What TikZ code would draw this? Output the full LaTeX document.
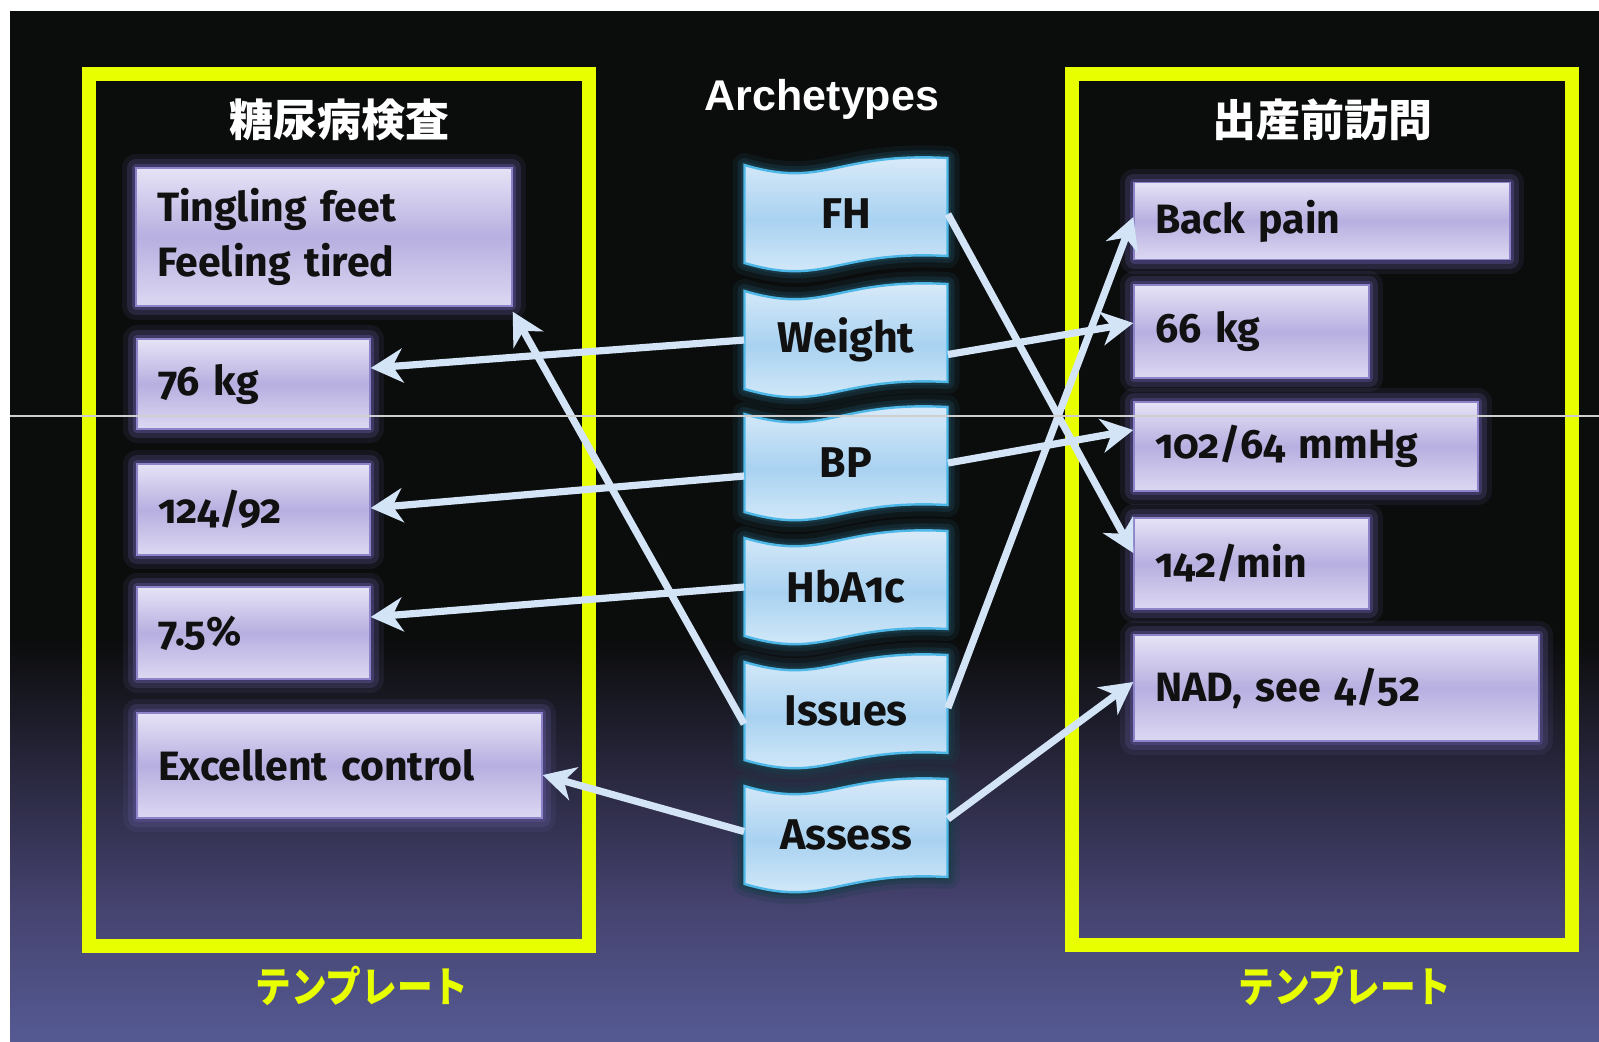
\documentclass[tikz,border=0pt]{standalone}
\usepackage{fontspec}
\setmainfont{Fira Sans}[Numbers=OldStyle]
\newfontfamily\cjk{Noto Sans CJK JP}
\newfontfamily\titlefont{Liberation Sans}
\usetikzlibrary{arrows.meta}
\definecolor{ylw}{HTML}{E8FF00}
\definecolor{bgk}{HTML}{0B0C0C}
\definecolor{bgmid}{HTML}{44416D}
\definecolor{bgbot}{HTML}{555A93}
\definecolor{boxtop}{HTML}{E6E3F6}
\definecolor{boxmid}{HTML}{B7AFE0}
\definecolor{boxbot}{HTML}{DCD8F2}
\definecolor{boxedge}{HTML}{8C83C8}
\definecolor{glowout}{HTML}{6A62A8}
\definecolor{glowin}{HTML}{5A5296}
\definecolor{archtop}{HTML}{DCECF9}
\definecolor{archmid}{HTML}{A9D2F1}
\definecolor{archbot}{HTML}{DDEEFA}
\definecolor{archedge}{HTML}{4DB8E8}
\definecolor{archglowc}{HTML}{1A3C4A}
\definecolor{conncol}{HTML}{D3E4F7}
\definecolor{txt}{HTML}{111111}
\definecolor{artif}{HTML}{CFCFCF}
\newcommand\boxfont{\fontsize{20.5}{27.5}\selectfont\bfseries\fontdimen2\font=4.2pt\fontdimen3\font=0pt\fontdimen4\font=0pt\relax}
\newcommand\archfont{\fontsize{21.5}{25}\selectfont\bfseries}
\tikzset{
  frame/.style={draw=ylw, line width=7pt},
  boxnode/.style={rectangle, anchor=center, align=left, inner xsep=10.5pt, inner ysep=0pt,
    font=\boxfont, text=txt, top color=boxtop, bottom color=boxbot, middle color=boxmid,
    draw=boxedge, line width=0.7pt,
    preaction={draw=glowout, line width=14pt, draw opacity=0.12, line join=round},
    preaction={draw=glowout, line width=9pt, draw opacity=0.22, line join=round},
    preaction={draw=glowin, line width=4pt, draw opacity=0.45, line join=round}},
  conn/.style={draw=conncol, line width=3.6pt, -{Stealth[length=16pt,width=17pt,inset=5pt]}},
  archnode/.style={rectangle, minimum width=101.5pt, minimum height=49pt, inner sep=0pt,
    font=\archfont, text=txt},
  archglowA/.style={draw=archglowc, line width=12pt, draw opacity=0.25, line join=round},
  archglowB/.style={draw=archglowc, line width=7pt, draw opacity=0.45, line join=round},
  archglowC/.style={draw=archglowc, line width=3.5pt, draw opacity=0.7, line join=round},
  archbody/.style={top color=archtop, bottom color=archbot, middle color=archmid,
    draw=archedge, line width=1.2pt},
  cjktitle/.style={font=\cjk\bfseries\fontsize{22}{26}\selectfont, text=white},
  tmpl/.style={font=\cjk\bfseries\fontsize{21}{24}\selectfont, text=ylw},
}
\begin{document}
\begin{tikzpicture}[x=0.5pt, y=-0.5pt]
\useasboundingbox (0,0) rectangle (1599,1041);
\fill[white] (0,0) rectangle (1599,1041);
\fill[bgk] (10,11) rectangle (1599,640);
\shade[top color=bgk, bottom color=bgmid] (10,638) rectangle (1599,900);
\shade[top color=bgmid, bottom color=bgbot] (10,899) rectangle (1599,1041);

% template frames
\draw[frame] (88.6,74) rectangle (589,945.5);
\draw[frame] (1072,74) rectangle (1572,945);

% titles
\node[cjktitle] (tl) at (339,120) {糖尿病検査};
\node[cjktitle] (tr) at (1322,120) {出産前訪問};
\node[font=\titlefont\bfseries\fontsize{21.5}{25}\selectfont, text=white] (ttl) at (822,99) {Archetypes};
\node[tmpl] (bl) at (362,986) {\scalebox{0.85}[1]{テンプレート}};
\node[tmpl] (br) at (1345,986) {\scalebox{0.85}[1]{テンプレート}};

% archetype shapes
\foreach \c in {214,340,463,587,711,835}{
  \foreach \g in {archglowA,archglowB,archglowC}{
  \path[\g] (744.5,\c-49) .. controls (825.7,\c-25) and (835.9,\c-62) .. (947.5,\c-56)
     -- (947.5,\c+42) .. controls (835.9,\c+36) and (825.7,\c+73) .. (744.5,\c+49) -- cycle;
  }
}
\foreach \c in {214,340,463,587,711,835}{
  \path[archbody] (744.5,\c-49) .. controls (825.7,\c-25) and (835.9,\c-62) .. (947.5,\c-56)
     -- (947.5,\c+42) .. controls (835.9,\c+36) and (825.7,\c+73) .. (744.5,\c+49) -- cycle;
}
\node[archnode] (afh) at (846,214) {FH};
\node[archnode] (aw)  at (846,340) {Weight};
\node[archnode] (abp) at (846,463) {BP};
\node[archnode] (ahb) at (846,587) {HbA1c};
\node[archnode] (ais) at (846,711) {Issues};
\node[archnode] (aas) at (846,835) {Assess};

% left boxes
\node[boxnode, text width=167pt, minimum height=69pt] (tf) at (324,237) {Tingling feet\\Feeling tired};
\node[boxnode, text width=95.5pt, minimum height=45pt] (k76) at (253.5,384) {76 kg};
\node[boxnode, text width=95.5pt, minimum height=45.5pt] (bp1) at (253.5,509.5) {124/92};
\node[boxnode, text width=95.5pt, minimum height=46pt] (hb) at (253.5,633) {7.5\%};
\node[boxnode, text width=181.5pt, minimum height=52.5pt] (ex) at (339.5,765.5) {Excellent control};

% right boxes
\node[boxnode, text width=167pt, minimum height=38.5pt] (bk) at (1322,221) {Back pain};
\node[boxnode, text width=96.5pt, minimum height=46.5pt] (k66) at (1251.5,331.5) {66 kg};
\node[boxnode, text width=151pt, minimum height=44.5pt] (mm) at (1306,446.5) {102/64 mmHg};
\node[boxnode, text width=96.5pt, minimum height=45.5pt] (mn) at (1251.5,563.5) {142/min};
\node[boxnode, text width=181.5pt, minimum height=53pt] (nad) at (1336.5,688) {NAD, see 4/52};

% connectors
\draw[conn] (aw.west) -- ([yshift=8pt]k76.east);
\draw[conn] ([yshift=-6.5pt]abp.west) -- ([yshift=0.75pt]bp1.east);
\draw[conn] (ahb.west) -- ([yshift=8pt]hb.east);
\draw[conn] ([yshift=-6.5pt]ais.west) -- ([yshift=-2.5pt]tf.south east);
\draw[conn] ([yshift=1.75pt]aas.west) -- ([yshift=-4.75pt]ex.east);
\draw[conn] (afh.east) -- ([yshift=5.25pt]mn.west);
\draw[conn] ([yshift=-7.25pt]aw.east) -- ([yshift=4.25pt]k66.west);
\draw[conn] (abp.east) -- ([yshift=8.25pt]mm.west);
\draw[conn] ([yshift=1.5pt]ais.east) -- ([yshift=2pt]bk.west);
\draw[conn] ([yshift=8pt]aas.east) -- ([yshift=3pt]nad.west);

% thin scan line
\draw[draw=artif, line width=0.6pt] (10,416) -- (1599,416);
\end{tikzpicture}
\end{document}
